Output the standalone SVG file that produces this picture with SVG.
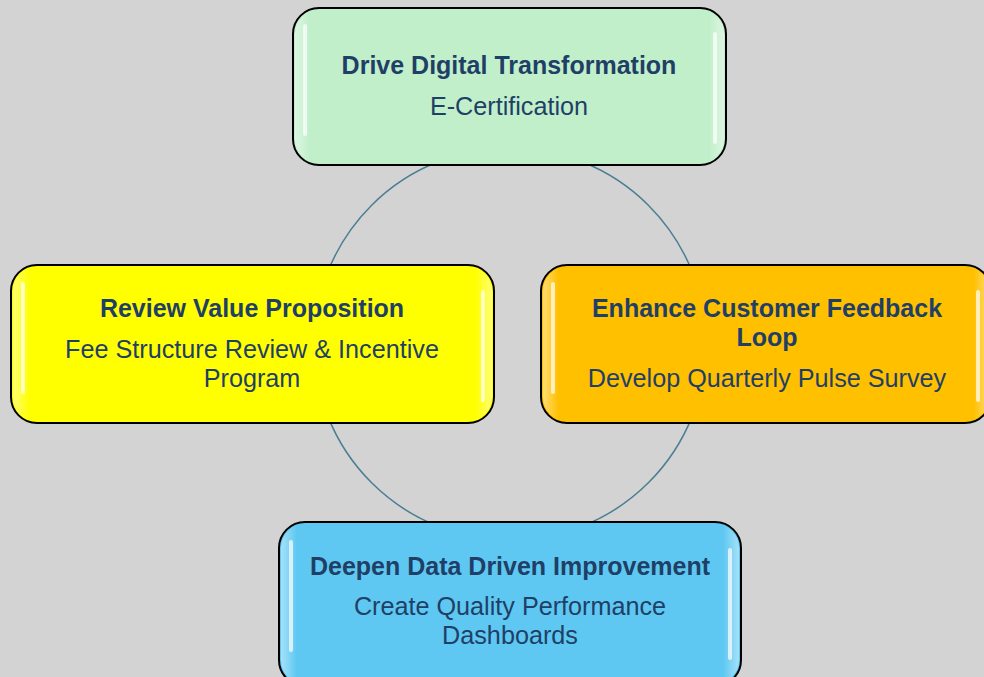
<svg xmlns="http://www.w3.org/2000/svg" width="984" height="677" viewBox="0 0 984 677">
<defs>
<style>
.box{stroke:#000;stroke-width:2}
.hl{fill:#fff;opacity:0.7}
.t{font-family:"Liberation Sans",Arial,sans-serif;fill:#1f3f66;text-anchor:middle}
.b{font-weight:bold;font-size:25px}
.s{font-size:25.2px}
</style>
<linearGradient id="edge" x1="0" y1="0" x2="1" y2="0">
<stop offset="0" stop-color="#fff" stop-opacity="0.45"/>
<stop offset="0.035" stop-color="#fff" stop-opacity="0"/>
<stop offset="0.965" stop-color="#fff" stop-opacity="0"/>
<stop offset="1" stop-color="#fff" stop-opacity="0.45"/>
</linearGradient>
</defs>
<rect x="0" y="0" width="984" height="677" fill="#d3d3d3"/>
<g id="connectors">
<circle cx="510" cy="344" r="196" fill="none" stroke="#4b7d94" stroke-width="1.5"/>
</g>
<g id="node-top">
<rect class="box" x="293" y="8" width="433" height="157" rx="26" fill="#c1efca"/>
<rect x="295" y="10" width="429" height="153" rx="24" fill="url(#edge)"/>
<rect class="hl" x="303" y="24" width="4" height="112" rx="2"/>
<rect class="hl" x="713" y="32" width="4" height="112" rx="2"/>
<text class="t b" x="509" y="74">Drive Digital Transformation</text>
<text class="t s" x="509" y="115">E-Certification</text>
</g>
<g id="node-left">
<rect class="box" x="11" y="265" width="483" height="158" rx="26" fill="#ffff00"/>
<rect x="13" y="267" width="479" height="154" rx="24" fill="url(#edge)"/>
<rect class="hl" x="21" y="282" width="4" height="112" rx="2"/>
<rect class="hl" x="481" y="290" width="4" height="112" rx="2"/>
<text class="t b" x="252" y="317">Review Value Proposition</text>
<text class="t s" x="252" y="358">Fee Structure Review &amp; Incentive<tspan x="252" dy="29">Program</tspan></text>
</g>
<g id="node-right">
<rect class="box" x="541" y="265" width="450" height="158" rx="26" fill="#ffc000"/>
<rect x="543" y="267" width="446" height="154" rx="24" fill="url(#edge)"/>
<rect class="hl" x="551" y="282" width="4" height="112" rx="2"/>
<rect class="hl" x="976" y="290" width="4" height="112" rx="2"/>
<text class="t b" x="767" y="317">Enhance Customer Feedback<tspan x="767" dy="29">Loop</tspan></text>
<text class="t s" x="767" y="387">Develop Quarterly Pulse Survey</text>
</g>
<g id="node-bottom">
<rect class="box" x="279" y="522" width="462" height="164" rx="26" fill="#5ec8f2"/>
<rect x="281" y="524" width="458" height="160" rx="24" fill="url(#edge)"/>
<rect class="hl" x="289" y="540" width="4" height="112" rx="2"/>
<rect class="hl" x="728" y="548" width="4" height="112" rx="2"/>
<text class="t b" x="510" y="575">Deepen Data Driven Improvement</text>
<text class="t s" x="510" y="615">Create Quality Performance<tspan x="510" dy="29">Dashboards</tspan></text>
</g>
</svg>
